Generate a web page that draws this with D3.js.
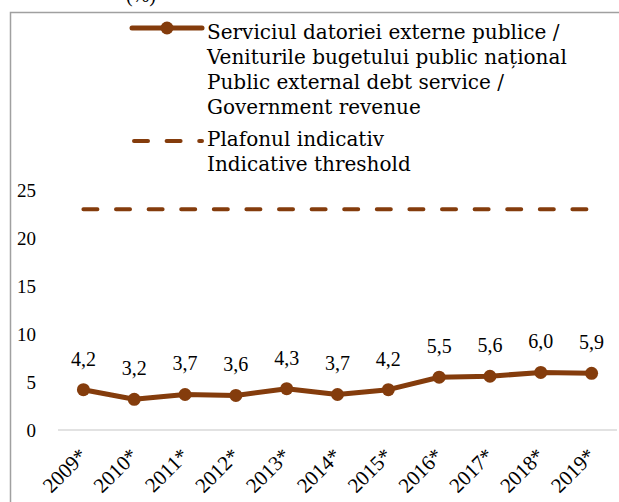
<!DOCTYPE html>
<html>
<head>
<meta charset="utf-8">
<script src="https://cdn.jsdelivr.net/npm/d3@7"></script>
<style>
  body { margin: 0; background: #fff; }
  svg text { font-family: "Liberation Serif", serif; fill: #000; }
  svg text.legend { font-family: "DejaVu Serif", serif; }
</style>
</head>
<body>
<div id="chart"></div>
<script>
const years = ["2009*", "2010*", "2011*", "2012*", "2013*", "2014*", "2015*", "2016*", "2017*", "2018*", "2019*"];
const debtService = [4.2, 3.2, 3.7, 3.6, 4.3, 3.7, 4.2, 5.5, 5.6, 6.0, 5.9];
const threshold = [23, 23, 23, 23, 23, 23, 23, 23, 23, 23, 23];
const yTicks = [0, 5, 10, 15, 20, 25];
const legendMain = ["Serviciul datoriei externe publice /", "Veniturile bugetului public național",
    "Public external debt service /", "Government revenue"];
const legendThreshold = ["Plafonul indicativ", "Indicative threshold"];

const brown = "#843c0c";
const width = 619, height = 502;

let svg = d3.select("#chart").append("svg")
    .attr("width", width)
    .attr("height", height);

// frame of the chart area
svg.append("rect")
    .attr("x", 10.5).attr("y", 12.5)
    .attr("width", 640).attr("height", 520)
    .attr("fill", "none")
    .attr("stroke", "#a0a0a0")
    .attr("stroke-width", 1.5);

// unit label, cut by the top edge as in the source
svg.append("text")
    .attr("x", 141).attr("y", 2)
    .attr("text-anchor", "middle")
    .style("font-size", "20px")
    .text("(%)");

let x = d3.scaleBand()
    .domain(years)
    .range([58, 617]);

let y = d3.scaleLinear()
    .domain([0, 25])
    .range([430, 190]);

let cx = d => x(d) + x.bandwidth() / 2;

// y axis labels
svg.append("g")
    .selectAll("text")
    .data(yTicks)
    .enter().append("text")
    .attr("x", 36)
    .attr("y", d => y(d))
    .attr("dy", "0.36em")
    .attr("text-anchor", "end")
    .style("font-size", "19px")
    .text(d => d);

// baseline
svg.append("line")
    .attr("x1", 58).attr("x2", 617)
    .attr("y1", y(0)).attr("y2", y(0))
    .attr("stroke", "#d9d9d9")
    .attr("stroke-width", 1.5);

// x axis labels
svg.append("g")
    .selectAll("text")
    .data(years)
    .enter().append("text")
    .attr("transform", d => `translate(${cx(d) + 5},${y(0) + 27}) rotate(-45)`)
    .attr("text-anchor", "end")
    .style("font-size", "21px")
    .text(d => d);

// threshold line
let line = d3.line()
    .x((d, i) => cx(years[i]))
    .y(d => y(d));

svg.append("path")
    .datum(threshold)
    .attr("d", line)
    .attr("fill", "none")
    .attr("stroke", brown)
    .attr("stroke-width", 4)
    .attr("stroke-linecap", "round")
    .attr("stroke-dasharray", "14,18.6");

// debt service line
svg.append("path")
    .datum(debtService)
    .attr("d", line)
    .attr("fill", "none")
    .attr("stroke", brown)
    .attr("stroke-width", 5)
    .attr("stroke-linejoin", "round");

svg.append("g")
    .selectAll("circle")
    .data(debtService)
    .enter().append("circle")
    .attr("cx", (d, i) => cx(years[i]))
    .attr("cy", d => y(d))
    .attr("r", 6.5)
    .attr("fill", brown);

svg.append("g")
    .selectAll("text")
    .data(debtService)
    .enter().append("text")
    .attr("x", (d, i) => cx(years[i]))
    .attr("y", d => y(d) - 24)
    .attr("text-anchor", "middle")
    .style("font-size", "20px")
    .text(d => d3.format(".1f")(d).replace(".", ","));

// legend
let legend = svg.append("g");

legend.append("line")
    .attr("x1", 132).attr("x2", 202)
    .attr("y1", 28).attr("y2", 28)
    .attr("stroke", brown)
    .attr("stroke-width", 5)
    .attr("stroke-linecap", "round");

legend.append("circle")
    .attr("cx", 167).attr("cy", 28)
    .attr("r", 6.5)
    .attr("fill", brown);

legend.append("line")
    .attr("x1", 134).attr("x2", 202)
    .attr("y1", 141).attr("y2", 141)
    .attr("stroke", brown)
    .attr("stroke-width", 4)
    .attr("stroke-linecap", "round")
    .attr("stroke-dasharray", "14,18.6");

legend.selectAll("text.main")
    .data(legendMain)
    .enter().append("text")
    .attr("class", "legend main")
    .attr("x", 207)
    .attr("y", (d, i) => 33 + i * 25)
    .attr("dy", "0.32em")
    .style("font-size", "20px")
    .text(d => d);

legend.selectAll("text.thr")
    .data(legendThreshold)
    .enter().append("text")
    .attr("class", "legend thr")
    .attr("x", 207)
    .attr("y", (d, i) => 140 + i * 25)
    .attr("dy", "0.32em")
    .style("font-size", "20px")
    .text(d => d);
</script>
</body>
</html>
